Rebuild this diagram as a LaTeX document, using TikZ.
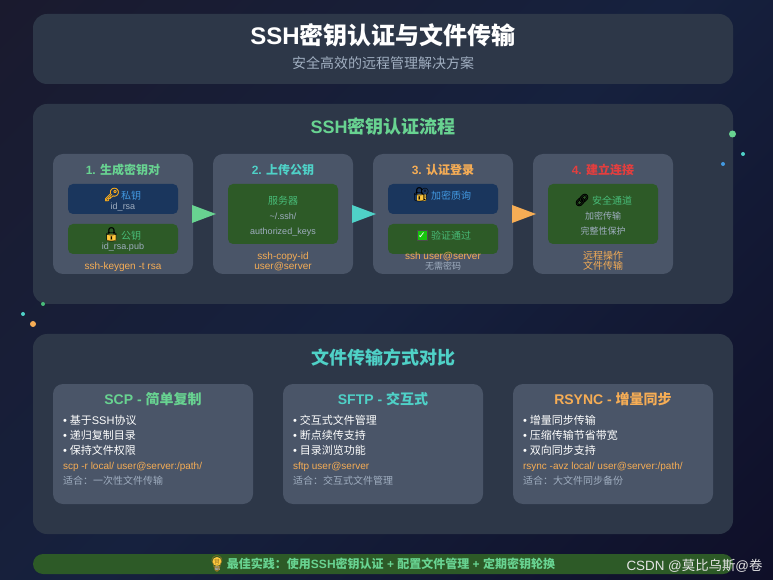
\documentclass[tikz,border=0pt]{standalone}
\usepackage{fontspec}
\setmainfont{Liberation Sans}
\newfontfamily\cjk{Noto Sans CJK SC}
\newfontfamily\emo{Noto Emoji}
\newfontfamily\emob[FakeBold=2]{Noto Emoji}
\newfontfamily\djv{DejaVu Sans}
\newcommand{\zh}[1]{{\cjk #1}}
\newcommand{\cln}{\symbol{"FF1A}}
\newcommand{\pxf}[1]{\fontsize{\the\dimexpr #1pt*3/4\relax}{\the\dimexpr #1pt*9/10\relax}\selectfont}
\definecolor{pan}{HTML}{2D3748}
\definecolor{crd}{HTML}{4A5568}
\definecolor{inb}{HTML}{1A365D}
\definecolor{ing}{HTML}{2D5A27}
\definecolor{tg}{HTML}{68D391}
\definecolor{tt}{HTML}{4FD1C7}
\definecolor{to}{HTML}{F6AD55}
\definecolor{tr}{HTML}{E53E3E}
\definecolor{tb}{HTML}{4299E1}
\definecolor{tn}{HTML}{48BB78}
\definecolor{gy}{HTML}{A0AEC0}
\definecolor{bgA}{HTML}{1A1A2E}
\definecolor{bgB}{HTML}{16213E}
\definecolor{bgC}{HTML}{0F0F28}
\definecolor{gold}{HTML}{F4A81C}
\definecolor{lockc}{HTML}{FFC83D}
\definecolor{chk}{HTML}{16C60C}
\tikzset{
  box/.style={rectangle,inner sep=0,outer sep=0},
  lbl/.style={inner sep=0,outer sep=0,anchor=base,align=center,yshift=-0.5pt},
  lft/.style={inner sep=0,outer sep=0,anchor=base west,yshift=-0.5pt},
  t24/.style={lbl,font=\pxf{24}\bfseries,text=white},
  t14g/.style={lbl,font=\pxf{14},text=gy},
  t18/.style={lbl,font=\pxf{18}\bfseries},
  t12/.style={lbl,font=\pxf{12}\bfseries},
  t14b/.style={lbl,font=\pxf{14}\bfseries},
  s10/.style={lbl,font=\pxf{10}},
  s9/.style={lbl,font=\pxf{9},text=gy},
  cmd/.style={lbl,font=\pxf{10},text=to},
  bul/.style={lft,font=\pxf{11},text=white},
  cod/.style={lft,font=\pxf{10},text=to},
  use/.style={lft,font=\pxf{10},text=gy},
  dot/.style={circle,inner sep=0,outer sep=0},
  emoj/.style={inner sep=0,outer sep=0,anchor=center,font=\pxf{14}\emo},
}
% \bx{name}{x1}{y1}{x2}{y2}{fill}{radius}
\newcommand{\bx}[7]{\node[box,fill=#6,rounded corners=#7*0.75pt,minimum width={(#4-#2)*0.75pt},minimum height={(#5-#3)*0.75pt}] (#1) at ({(#2+#4)/2},{(#3+#5)/2}) {};}
% \arw{from}{to}{colour}
\newcommand{\arw}[3]{\fill[#3] ([xshift=-0.75pt,yshift=6.75pt]#1.east) -- ([xshift=-0.75pt,yshift=-6.75pt]#1.east) -- ([xshift=2.25pt]#2.west) -- cycle;}
\begin{document}
\begin{tikzpicture}[x=0.75pt,y=-0.75pt]
\useasboundingbox (0,0) rectangle (773,580);
\begin{scope}
\clip (0,0) rectangle (773,580);
\shade[transform canvas={rotate around={-45:(386.5,290)}},left color=bgA,right color=bgC,middle color=bgB] (-92,-420) rectangle (865,1000);
\end{scope}
% panels
\bx{head}{33}{14}{733}{84}{pan}{14}
\bx{flow}{33}{104}{733}{304}{pan}{14}
\bx{cmp}{33}{334}{733}{534}{pan}{14}
\bx{foot}{33}{554}{733}{574}{ing}{10}
% step cards
\bx{c1}{53}{154}{193}{274}{crd}{10}
\bx{c2}{213}{154}{353}{274}{crd}{10}
\bx{c3}{373}{154}{513}{274}{crd}{10}
\bx{c4}{533}{154}{673}{274}{crd}{10}
% inner boxes
\bx{b1a}{68}{184}{178}{214}{inb}{5}
\bx{b1b}{68}{224}{178}{254}{ing}{5}
\bx{b2}{228}{184}{338}{244}{ing}{5}
\bx{b3a}{388}{184}{498}{214}{inb}{5}
\bx{b3b}{388}{224}{498}{254}{ing}{5}
\bx{b4}{548}{184}{658}{244}{ing}{5}
% comparison cards
\bx{s1}{53}{384}{253}{504}{crd}{10}
\bx{s2}{283}{384}{483}{504}{crd}{10}
\bx{s3}{513}{384}{713}{504}{crd}{10}
% arrows
\arw{c1}{c2}{tg}
\arw{c2}{c3}{tt}
\arw{c3}{c4}{to}
% dots
\node[dot,fill=tg,minimum size=5.25pt] (d1) at (732.5,134) {};
\node[dot,fill=tt,minimum size=3pt] (d2) at (743,154) {};
\node[dot,fill=tb,minimum size=3pt] (d3) at (723,164) {};
\node[dot,fill=tn,minimum size=3pt] (d4) at (43,304) {};
\node[dot,fill=tt,minimum size=3pt] (d5) at (23,314) {};
\node[dot,fill=to,minimum size=4.5pt] (d6) at (33,324) {};
% headings
\node[t24] (title) at (383,44) {SSH\zh{密钥认证与文件传输}};
\node[t14g] (sub) at (383,68) {\zh{安全高效的远程管理解决方案}};
\node[t18,text=tg] (h1) at (383,133) {SSH\zh{密钥认证流程}};
\node[t18,text=tt] (h2) at (383,364) {\zh{文件传输方式对比}};
% step 1
\node[t12,text=tg] (t1) at (123,174) {1. \zh{生成密钥对}};
\node[emoj,font=\pxf{13}\emob,text=gold] (e1) at (112,194.5) {🔑};
\node[s10,text=tb] (k1) at (131,199) {\zh{私钥}};
\node[s9] (k1n) at (123,209) {id\_rsa};
\fill[lockc,rounded corners=0.5pt] (107,234.5) rectangle (116,241);
\node[emoj,text=black] (e2) at (111.5,234.5) {🔒};
\node[s10,text=tn] (k2) at (131,239) {\zh{公钥}};
\node[s9] (k2n) at (123,249) {id\_rsa.pub};
\node[cmd] (k3) at (123,269) {ssh-keygen -t rsa};
% step 2
\node[t12,text=tt] (t2) at (283,174) {2. \zh{上传公钥}};
\node[s10,text=tn] (u1) at (283,204) {\zh{服务器}};
\node[s9] (u2) at (283,219) {\textasciitilde/.ssh/};
\node[s9] (u3) at (283,234) {authorized\_keys};
\node[cmd] (u4) at (283,259) {ssh-copy-id};
\node[cmd] (u5) at (283,269) {user@server};
% step 3
\node[t12,text=to] (t3) at (443,174) {3. \zh{认证登录}};
\fill[lockc,rounded corners=0.5pt] (417,194.5) rectangle (426,201);
\node[emoj,text=black] (e3) at (421.5,195) {🔐};
\node[s10,text=tb] (v1) at (451,199) {\zh{加密质询}};
\node[box,fill=chk,draw=black!70,line width=0.5pt,minimum size=7.5pt] (e4b) at (422,235.5) {};
\node[inner sep=0,outer sep=0,font=\pxf{9}\djv\bfseries,text=white] (e4) at (e4b.center) {✓};
\node[s10,text=tn] (v2) at (451,239) {\zh{验证通过}};
\node[cmd] (v3) at (443,259) {ssh user@server};
\node[s9] (v4) at (443,269) {\zh{无需密码}};
% step 4
\node[t12,text=tr] (t4) at (603,174) {4. \zh{建立连接}};
\node[emoj,font=\pxf{12}\emob,text=black] (e5) at (582,200) {🔗};
\node[s10,text=tn] (w1) at (612,204) {\zh{安全通道}};
\node[s9] (w2) at (603,219) {\zh{加密传输}};
\node[s9] (w3) at (603,234) {\zh{完整性保护}};
\node[cmd] (w4) at (603,259) {\zh{远程操作}};
\node[cmd] (w5) at (603,269) {\zh{文件传输}};
% scp
\node[t14b,text=tg] (a0) at (153,404) {SCP - \zh{简单复制}};
\node[bul] (a1) at (63,424) {• \zh{基于}SSH\zh{协议}};
\node[bul] (a2) at (63,439) {• \zh{递归复制目录}};
\node[bul] (a3) at (63,454) {• \zh{保持文件权限}};
\node[cod] (a4) at (63,469) {scp -r local/ user@server:/path/};
\node[use] (a5) at (63,484) {\zh{适合\cln 一次性文件传输}};
% sftp
\node[t14b,text=tt] (b0) at (383,404) {SFTP - \zh{交互式}};
\node[bul] (b1) at (293,424) {• \zh{交互式文件管理}};
\node[bul] (b2) at (293,439) {• \zh{断点续传支持}};
\node[bul] (b3) at (293,454) {• \zh{目录浏览功能}};
\node[cod] (b4) at (293,469) {sftp user@server};
\node[use] (b5) at (293,484) {\zh{适合\cln 交互式文件管理}};
% rsync
\node[t14b,text=to] (e0) at (613,404) {RSYNC - \zh{增量同步}};
\node[bul] (e1b) at (523,424) {• \zh{增量同步传输}};
\node[bul] (e2b) at (523,439) {• \zh{压缩传输节省带宽}};
\node[bul] (e3b) at (523,454) {• \zh{双向同步支持}};
\node[cod] (e4c) at (523,469) {rsync -avz local/ user@server:/path/};
\node[use] (e5c) at (523,484) {\zh{适合\cln 大文件同步备份}};
% footer
\fill[lockc] (217,561.5) circle (3.4pt);
\fill[gy] (214.5,565.5) rectangle (219.5,570);
\node[emoj,font=\pxf{16}\emo,text=lockc!60!black] (e6) at (217,564) {💡};
\node[lbl,font=\pxf{12}\bfseries,text=tg] (f1) at (391,568) {\zh{最佳实践\cln 使用}SSH\zh{密钥认证} + \zh{配置文件管理} + \zh{定期密钥轮换}};
\node[lbl,font=\pxf{13.4},text=white!80!gray] (wm) at (694.5,570) {CSDN @\zh{莫比乌斯}@\zh{卷}};
\end{tikzpicture}
\end{document}
